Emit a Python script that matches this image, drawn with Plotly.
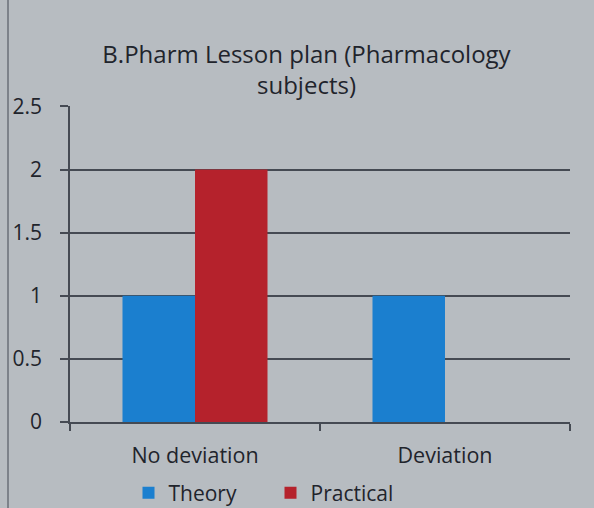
import plotly.graph_objects as go

categories = ["No deviation", "Deviation"]
theory = [1, 1]
practical = [2, 0]
y_ticks = [0, 0.5, 1, 1.5, 2, 2.5]
y_labels = ["0", "0.5", "1", "1.5", "2", "2.5"]

bg = "#b7bcc1"
txt = "#1f242c"
grid = "#454a53"
fam = "Open Sans, Liberation Sans, sans-serif"

fig = go.Figure()
fig.add_trace(go.Bar(name="Theory", x=categories, y=theory, marker_color="#1b7fcf", marker_line_width=0))
fig.add_trace(go.Bar(name="Practical", x=categories, y=practical, marker_color="#b5222c", marker_line_width=0))

fig.update_layout(
    width=594, height=508,
    paper_bgcolor=bg, plot_bgcolor=bg,
    barmode="group", bargap=0.42, bargroupgap=0,
    margin=dict(l=70, r=24, t=106, b=86, autoexpand=False),
    font=dict(family=fam, color=txt, size=20),
    title=dict(text="B.Pharm Lesson plan (Pharmacology<br>subjects)", x=0.516, xanchor="center",
               y=0.876, yanchor="top", font=dict(size=24, color=txt, family=fam), automargin=False),
    legend=dict(orientation="h", x=0.117, xanchor="left", y=-0.16, yanchor="top",
                entrywidth=97, entrywidthmode="pixels",
                font=dict(size=21, color=txt, family=fam), bgcolor="rgba(0,0,0,0)"),
    showlegend=True,
)
fig.update_yaxes(range=[0, 2.503], tickvals=y_ticks, ticktext=y_labels, showgrid=True,
                 gridcolor=grid, gridwidth=1.6, showline=True, linecolor=grid, linewidth=1.6,
                 ticks="outside", ticklen=8, tickcolor=grid, tickwidth=1.6, zeroline=False,
                 tickfont=dict(size=21, family=fam), ticklabelstandoff=14, automargin=False)
fig.update_xaxes(showline=True, linecolor=grid, linewidth=1.6, ticks="outside", tickson="boundaries",
                 ticklen=7, tickcolor=grid, tickwidth=1.6, tickfont=dict(size=21.5, family=fam),
                 ticklabelstandoff=13, automargin=False)
fig.add_shape(type="line", xref="paper", yref="paper", x0=-0.124, x1=-0.124, y0=-0.3, y1=1.4,
              line=dict(color="#6a6f77", width=1.5))

fig.write_html("out.html", config={"displayModeBar": False},
               post_script="document.body.style.margin='0';document.body.style.padding='0';")
